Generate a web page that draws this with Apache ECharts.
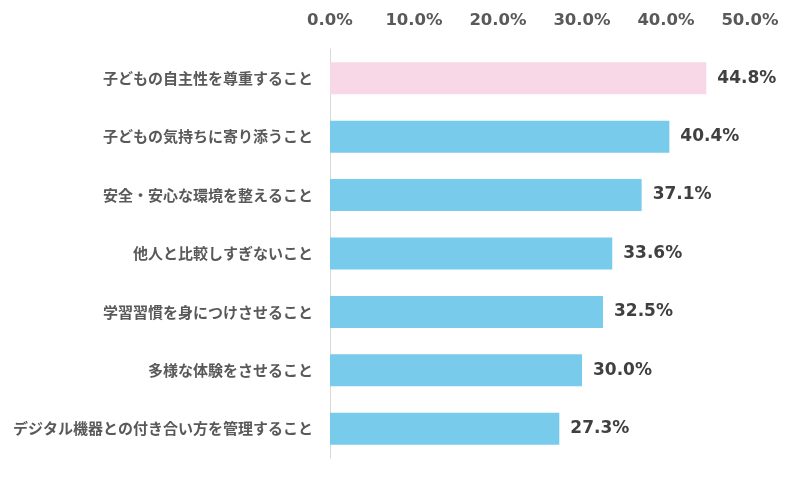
<!DOCTYPE html>
<html><head><meta charset="utf-8">
<script src="https://cdn.jsdelivr.net/npm/echarts@6/dist/echarts.min.js"></script>
<style>html,body{margin:0;padding:0;background:#fff}#c{width:800px;height:480px}</style>
</head><body><div id="c"></div>
<script>
var categories = ['子どもの自主性を尊重すること','子どもの気持ちに寄り添うこと','安全・安心な環境を整えること','他人と比較しすぎないこと','学習習慣を身につけさせること','多様な体験をさせること','デジタル機器との付き合い方を管理すること'];
var values = [44.8, 40.4, 37.1, 33.6, 32.5, 30.0, 27.3];
var barColors = ['#F8D7E6','#78CBEB','#78CBEB','#78CBEB','#78CBEB','#78CBEB','#78CBEB'];
var xTicks = [0,10,20,30,40,50];

var chart = echarts.init(document.getElementById('c'));
chart.setOption({
  animation:false,
  grid:{left:330,right:50,top:49,bottom:22,containLabel:false},
  xAxis:{type:'value',position:'top',min:xTicks[0],max:xTicks[xTicks.length-1],interval:10,
    axisLine:{show:false},axisTick:{show:false},splitLine:{show:false},
    axisLabel:{margin:20,color:'#595959',fontSize:16.5,fontWeight:'bold',fontFamily:'DejaVu Sans',
      formatter:function(v){return v.toFixed(1)+'%';}}},
  yAxis:{type:'category',inverse:true,data:categories,
    axisLine:{show:true,lineStyle:{color:'#D9D9D9',width:1}},axisTick:{show:false},
    axisLabel:{margin:17,color:'#595959',fontSize:15,fontWeight:'bold',fontFamily:'Noto Sans CJK JP'}},
  series:[{type:'bar',barWidth:32,
    data:values.map(function(v,i){return {value:v,itemStyle:{color:barColors[i]}};}),
    label:{show:true,position:'right',distance:11,color:'#404040',fontSize:17,fontWeight:'bold',fontFamily:'DejaVu Sans',
      formatter:function(p){return p.value.toFixed(1)+'%';}}}]
});
</script></body></html>
